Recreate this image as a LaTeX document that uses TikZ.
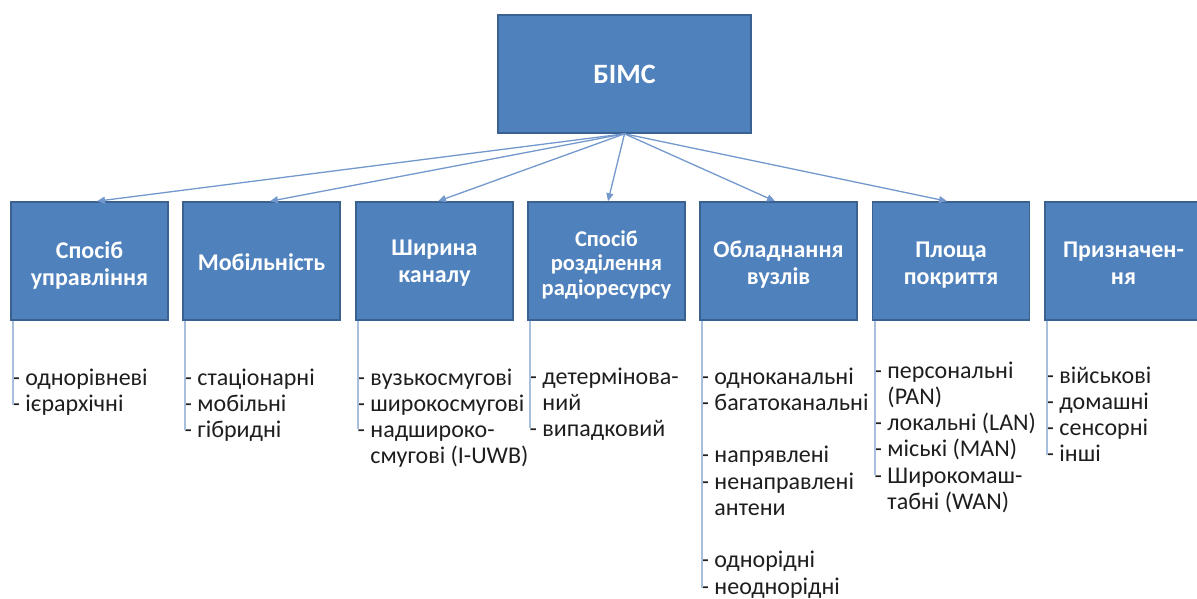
\documentclass[tikz,border=0pt]{standalone}
\usepackage{fontspec}
\setmainfont{Carlito}
\usetikzlibrary{arrows.meta}
\definecolor{boxfill}{HTML}{4F81BD}
\definecolor{boxedge}{HTML}{3A6190}
\definecolor{linkc}{HTML}{7398CD}
\definecolor{railc}{HTML}{A7C0DE}
\definecolor{itemc}{HTML}{1E1E1E}
% strut that fixes the height of the first text line (top = baseline - 19pt)
\newcommand\firstln{\rule{0pt}{19pt}}
\newcommand\hang{\phantom{- }}
\begin{document}
\begin{tikzpicture}[x=1pt,y=-1pt,
  catbox/.style={draw=boxedge, line width=1.6pt, fill=boxfill,
    minimum width=157pt, minimum height=118pt, inner sep=0pt},
  cattext/.style={text=white, align=center, inner sep=0pt, yshift=-3.5pt,
    font=\bfseries\fontsize{24}{26.5}\selectfont},
  rootbox/.style={catbox, minimum width=253pt, minimum height=118pt,
    text=white, font=\bfseries\fontsize{28}{32}\selectfont},
  items/.style={anchor=north west, inner sep=0pt, align=left, text=itemc,
    font=\fontsize{24}{26.25}\selectfont},
  link/.style={draw=linkc, line width=1.3pt, -{Triangle[length=8pt,width=7pt]}},
  rail/.style={draw=railc, line width=1.8pt}]
\useasboundingbox (0,0) rectangle (1197,598);
\clip (0,0) rectangle (1197,598);

% root
\node[rootbox] (root) at (624.5,74) {БІМС};

% categories (titles sit slightly below the box centre)
\node[catbox, label={[cattext, yshift=-1pt]center:Спосіб\\управління}] (b1) at (89.5,261) {};
\node[catbox, label={[cattext, yshift=2pt]center:Мобільність}] (b2) at (261.5,261) {};
\node[catbox, label={[cattext, yshift=1.5pt]center:Ширина\\каналу}] (b3) at (434.5,261) {};
\node[catbox, label={[cattext, font=\bfseries\fontsize{22.5}{24.5}\selectfont]center:Спосіб\\розділення\\радіоресурсу}] (b4) at (606.5,261) {};
\node[catbox, label={[cattext]center:Обладнання\\вузлів}] (b5) at (778.5,261) {};
\node[catbox, label={[cattext, yshift=-0.5pt]center:Площа\\покриття}] (b6) at (951,261) {};
\node[catbox, label={[cattext, yshift=1.5pt]center:Призначен-\\ня}] (b7) at (1123.5,261) {};

% connectors from the root
\draw[link] (root.south) -- ([xshift=7.5pt]b1.north);
\draw[link] (root.south) -- ([xshift=8.5pt]b2.north);
\draw[link] (root.south) -- ([xshift=3.5pt]b3.north);
\draw[link] (root.south) -- ([xshift=1.5pt]b4.north);
\draw[link] (root.south) -- ([xshift=-3.5pt]b5.north);
\draw[link] (root.south) -- ([xshift=-4pt]b6.north);

% item lists
\node[items] (i1) at (12.5,366) {\firstln- однорівневі\\- ієрархічні};
\node[items] (i2) at (184.5,366) {\firstln- стаціонарні\\- мобільні\\- гібридні};
\node[items] (i3) at (357.5,366) {\firstln- вузькосмугові\\- широкосмугові\\- надшироко-\\\hang смугові (I-UWB)};
\node[items] (i4) at (529.5,365) {\firstln- детермінова-\\\hang ний\\- випадковий};
\node[items] (i5) at (701.5,365) {\firstln- одноканальні\\- багатоканальні\\[26.25pt]- напрявлені\\- ненаправлені\\\hang антени\\[26.25pt]- однорідні\\- неоднорідні};
\node[items] (i6) at (874.5,359) {\firstln- персональні\\\hang(PAN)\\- локальні (LAN)\\- міські (MAN)\\- Широкомаш-\\\hang табні (WAN)};
\node[items] (i7) at (1046.5,364) {\firstln- військові\\- домашні\\- сенсорні\\- інші};

% rails down the left side of each list
\coordinate (r1) at (13,405);
\coordinate (r2) at (185,430);
\coordinate (r3) at (358,429);
\coordinate (r4) at (530,428);
\coordinate (r5) at (702,588);
\coordinate (r6) at (875,475);
\coordinate (r7) at (1047,455);
\draw[rail] (b1.south west -| r1) -- (r1);
\draw[rail] (b2.south west -| r2) -- (r2);
\draw[rail] (b3.south west -| r3) -- (r3);
\draw[rail] (b4.south west -| r4) -- (r4);
\draw[rail] (b5.south west -| r5) -- (r5);
\draw[rail] (b6.south west -| r6) -- (r6);
\draw[rail] (b7.south west -| r7) -- (r7);
\end{tikzpicture}
\end{document}
